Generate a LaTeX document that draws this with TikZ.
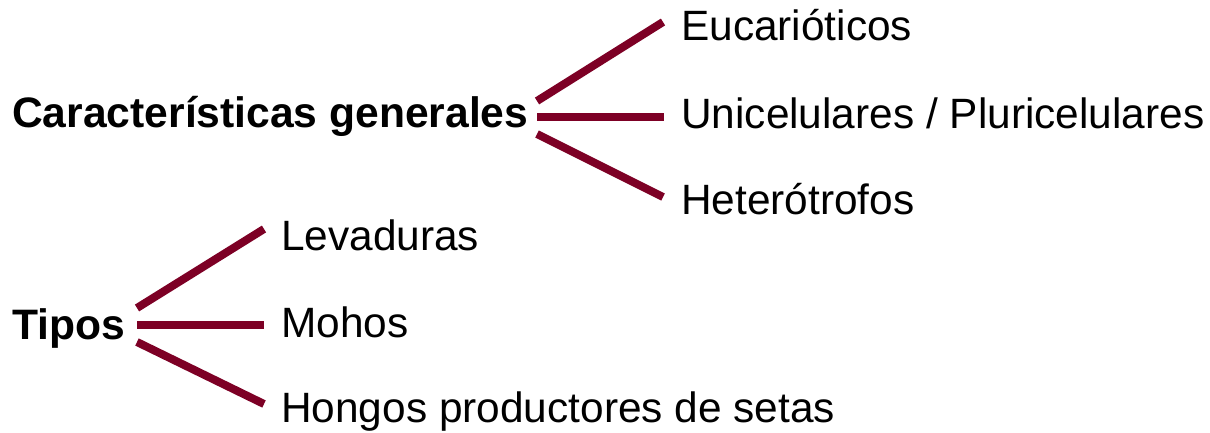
\documentclass[tikz,border=0pt]{standalone}
\usepackage{fontspec}
\setmainfont{Liberation Sans}
\definecolor{maroon}{HTML}{7D0025}
\begin{document}
\begin{tikzpicture}[x=1pt,y=-1pt,
  lbl/.style={anchor=base west,inner sep=0pt,font=\fontsize{42.4}{50}\selectfont},
  head/.style={lbl,font=\fontsize{42.6}{50}\selectfont\bfseries},
  branch/.style={draw=maroon,line width=8pt}]
\useasboundingbox (0,0) rectangle (1210,433);
% group 1
\node[head] (cg) at (12,128) {Características generales};
\coordinate (g1a) at (537,101);
\coordinate (g1b) at (537,117);
\coordinate (g1c) at (537,134);
\node[lbl] (euc) at (681,41) {Eucarióticos};
\node[lbl] (uni) at (681,129) {Unicelulares / Pluricelulares};
\node[lbl] (het) at (681,214) {Heterótrofos};
\coordinate (e1) at (663,22);
\coordinate (e2) at (664,117);
\coordinate (e3) at (663,197);
\draw[branch] (g1a) -- (e1);
\draw[branch] (g1b) -- (e2);
\draw[branch] (g1c) -- (e3);
% group 2
\node[head] (tip) at (12,339) {Tipos};
\coordinate (g2a) at (137,308);
\coordinate (g2b) at (137,325);
\coordinate (g2c) at (137,342);
\node[lbl] (lev) at (281,250) {Levaduras};
\node[lbl] (moh) at (281,337) {Mohos};
\node[lbl] (hon) at (281,422) {Hongos productores de setas};
\coordinate (t1) at (264,229);
\coordinate (t2) at (264,325);
\coordinate (t3) at (264,404);
\draw[branch] (g2a) -- (t1);
\draw[branch] (g2b) -- (t2);
\draw[branch] (g2c) -- (t3);
\end{tikzpicture}
\end{document}
